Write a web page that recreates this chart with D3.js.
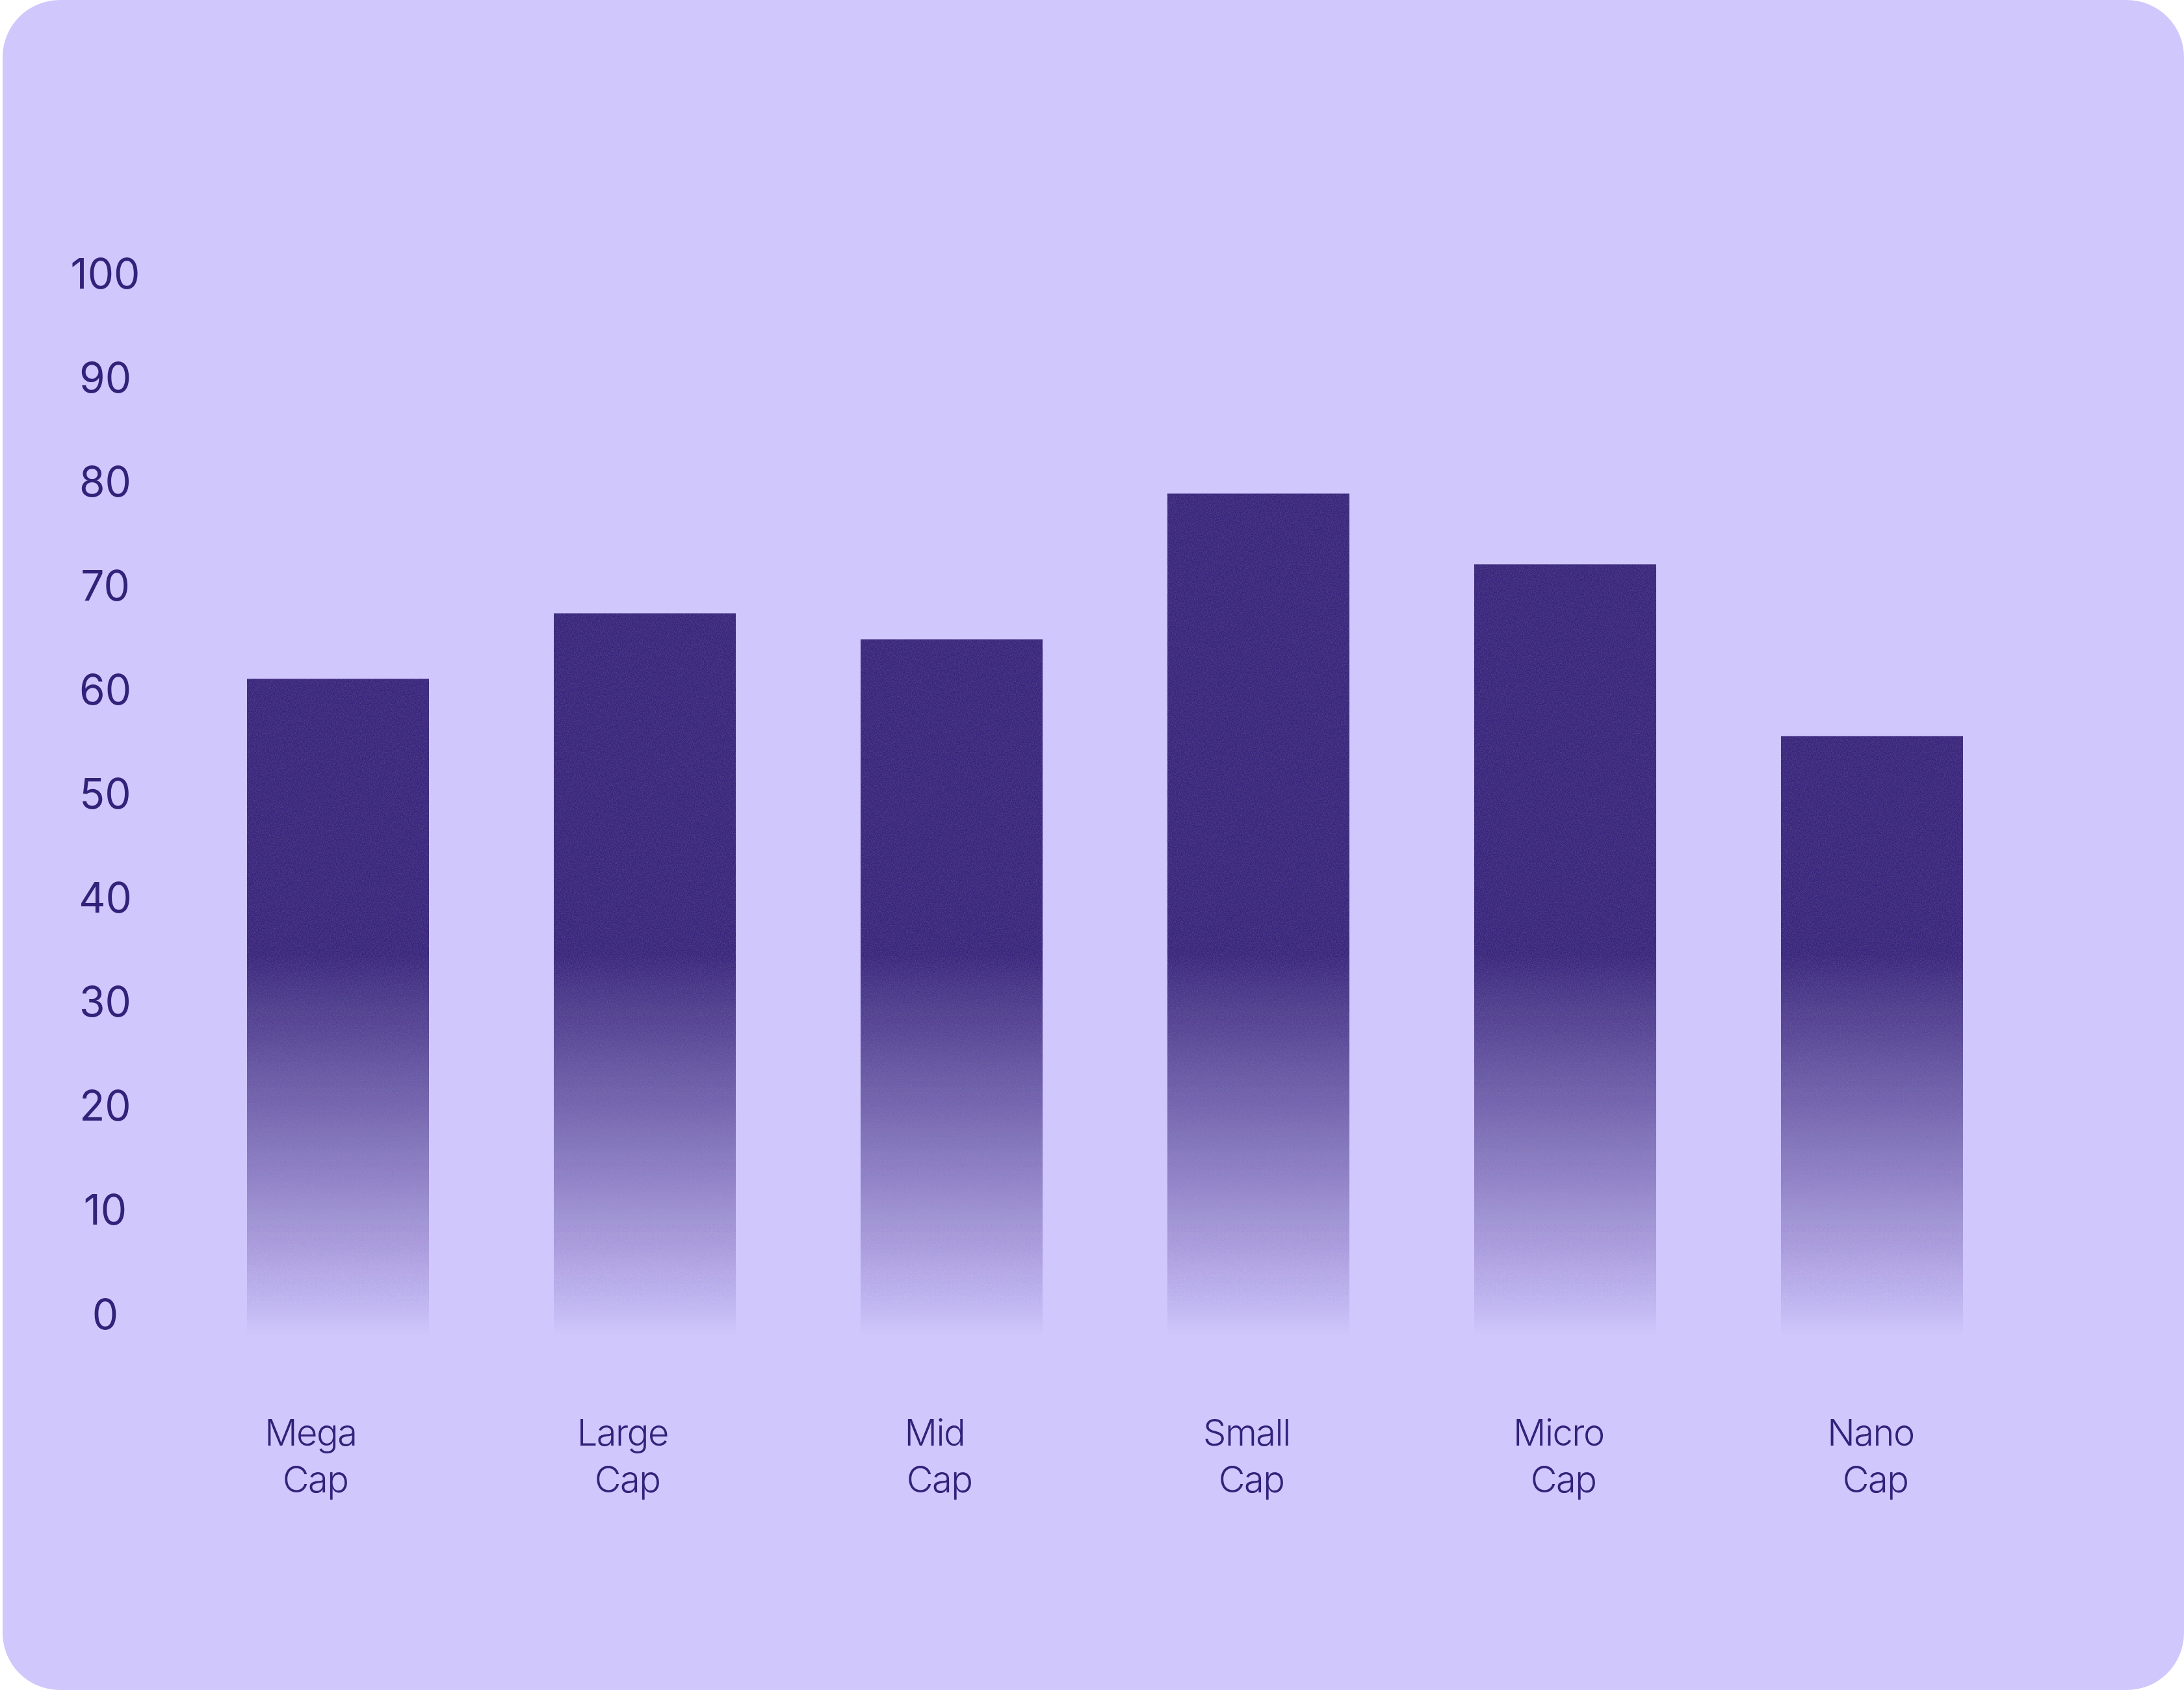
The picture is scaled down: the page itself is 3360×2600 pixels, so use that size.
<!DOCTYPE html>
<html>
<head>
<meta charset="utf-8">
<script src="https://cdn.jsdelivr.net/npm/d3@7"></script>
<style>
  html, body { margin: 0; padding: 0; background: #ffffff; }
  svg { display: block; }
  text { font-family: Inter, "Noto Sans", sans-serif; }
</style>
</head>
<body>
<svg id="chart" width="3360" height="2600"></svg>
<script>
// ---- data ----
const categories = ["Mega Cap", "Large Cap", "Mid Cap", "Small Cap", "Micro Cap", "Nano Cap"];
const values = [61, 67.3, 64.8, 78.8, 72, 55.5];
const yTicks = [0, 10, 20, 30, 40, 50, 60, 70, 80, 90, 100];

// ---- style ----
const BG = "#D0C7FC";
const BAR = "#39287C";
const TEXT = "#33227A";

const svg = d3.select("#chart");

// card
svg.append("rect")
  .attr("x", 4).attr("y", 0)
  .attr("width", 3356).attr("height", 2600)
  .attr("rx", 88).attr("ry", 88)
  .attr("fill", BG);

// scales
const x = d3.scaleBand()
  .domain(categories)
  .range([380, 3020])
  .paddingInner(192 / 472)
  .paddingOuter(0);

const xLabel = d3.scalePoint()
  .domain(categories)
  .range([485, 2885]);

const y = d3.scaleLinear()
  .domain([0, 100])
  .range([2021, 420]);

const BAR_OVERHANG = 34;
const barBottom = y(0) + BAR_OVERHANG;

// defs: gradient + grain
const defs = svg.append("defs");
const grad = defs.append("linearGradient")
  .attr("id", "barGrad")
  .attr("gradientUnits", "userSpaceOnUse")
  .attr("x1", 0).attr("x2", 0)
  .attr("y1", 1470).attr("y2", barBottom);
grad.append("stop").attr("offset", 0).attr("stop-color", BAR).attr("stop-opacity", 1);
grad.append("stop").attr("offset", 0.45).attr("stop-color", BAR).attr("stop-opacity", 0.55);
grad.append("stop").attr("offset", 1).attr("stop-color", BAR).attr("stop-opacity", 0);

const filt = defs.append("filter")
  .attr("id", "grain")
  .attr("x", 0).attr("y", 0).attr("width", "100%").attr("height", "100%");
filt.append("feTurbulence")
  .attr("type", "fractalNoise")
  .attr("baseFrequency", 0.85)
  .attr("numOctaves", 2)
  .attr("seed", 4)
  .attr("result", "noise");
filt.append("feColorMatrix")
  .attr("in", "noise")
  .attr("type", "matrix")
  .attr("values", "0 0 0 0 0.30  0 0 0 0 0.20  0 0 0 0 0.52  0 0 0 0.35 -0.12")
  .attr("result", "tint");
filt.append("feComposite")
  .attr("in", "tint").attr("in2", "SourceGraphic")
  .attr("operator", "in").attr("result", "tintIn");
const merge = filt.append("feMerge");
merge.append("feMergeNode").attr("in", "SourceGraphic");
merge.append("feMergeNode").attr("in", "tintIn");

// bars
svg.append("g")
  .selectAll("rect")
  .data(categories)
  .join("rect")
  .attr("x", d => x(d))
  .attr("y", (d, i) => y(values[i]))
  .attr("width", x.bandwidth())
  .attr("height", (d, i) => barBottom - y(values[i]))
  .attr("fill", "url(#barGrad)")
  .attr("filter", "url(#grain)");

// y axis labels
svg.append("g")
  .selectAll("text")
  .data(yTicks)
  .join("text")
  .attr("x", 162)
  .attr("y", d => y(d) + 23.5)
  .attr("text-anchor", "middle")
  .attr("font-size", 64)
  .attr("fill", TEXT)
  .text(d => d);

// category labels (two lines)
const catG = svg.append("g");
categories.forEach(c => {
  const parts = c.split(" ");
  const t = catG.append("text")
    .attr("text-anchor", "middle")
    .attr("font-size", 56)
    .attr("font-weight", 300)
    .attr("letter-spacing", -1.5)
    .attr("fill", TEXT)
    .style("white-space", "pre");
  t.append("tspan")
    .attr("x", xLabel(c))
    .attr("y", 2224)
    .text(parts[0] + " ");
  t.append("tspan")
    .attr("x", xLabel(c))
    .attr("y", 2296)
    .text(parts.slice(1).join(" "));
});
</script>
</body>
</html>
